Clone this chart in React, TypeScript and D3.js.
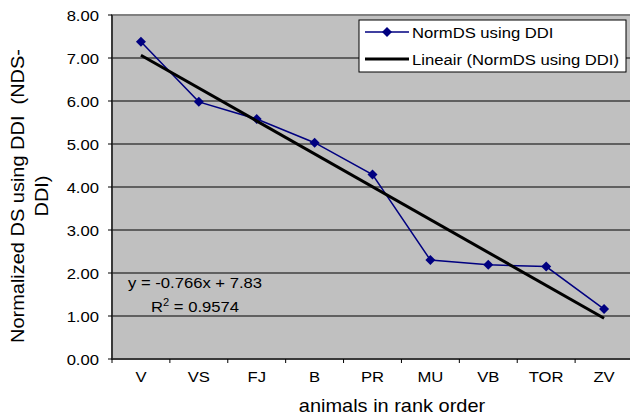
import React from "react";
import * as d3 from "d3";

const categories = ["V", "VS", "FJ", "B", "PR", "MU", "VB", "TOR", "ZV"];
const normDS = [7.38, 5.98, 5.58, 5.03, 4.29, 2.3, 2.19, 2.15, 1.16];
const yTicks = [0, 1, 2, 3, 4, 5, 6, 7, 8];
const seriesName = "NormDS using DDI";
const trendName = "Lineair (NormDS using DDI)";
const equationLabel = "y = -0.766x + 7.83";
const r2Value = "0.9574";
const xTitle = "animals in rank order";
const yTitleLines = ["Normalized DS using DDI  (NDS-", "DDI)"];

const W = 630;
const H = 418;
const plot = { left: 112, right: 633, top: 15, bottom: 359 };
const FONT = "'Liberation Sans', Arial, Helvetica, sans-serif";
const SX = 1.11;

function T({ x, y, size, anchor = "start", children, fill = "#000" }: any) {
  return (
    <text
      transform={`translate(${x},${y}) scale(${SX},1)`}
      fontSize={size}
      textAnchor={anchor}
      fill={fill}
      fontFamily={FONT}
      style={{ whiteSpace: "pre" }}
    >
      {children}
    </text>
  );
}

export default function App() {
  const x = d3
    .scaleBand<string>()
    .domain(categories)
    .range([plot.left, plot.right])
    .paddingInner(0)
    .paddingOuter(0);
  const y = d3.scaleLinear().domain([0, 8]).range([plot.bottom, plot.top]);
  const cx = (c: string) => (x(c) as number) + x.bandwidth() / 2;

  // linear regression (x = 1..n)
  const n = normDS.length;
  const xs = normDS.map((_, i) => i + 1);
  const mx = d3.mean(xs) as number;
  const my = d3.mean(normDS) as number;
  const slope =
    (d3.sum(xs.map((xi, i) => (xi - mx) * (normDS[i] - my))) as number) /
    (d3.sum(xs.map((xi) => (xi - mx) ** 2)) as number);
  const intercept = my - slope * mx;
  const trendPts: [number, number][] = [
    [cx(categories[0]), y(intercept + slope * 1)],
    [cx(categories[n - 1]), y(intercept + slope * n)],
  ];

  const line = d3
    .line<number>()
    .x((_, i) => cx(categories[i]))
    .y((d) => y(d));
  const diamond = d3.symbol(d3.symbolSquare, 50)() as string;

  const legend = { x: 359, y: 20, w: 267, h: 52 };
  const row1 = 32;
  const row2 = 59;

  return (
    <svg
      width={W}
      height={H}
      style={{ position: "absolute", left: 0, top: 0, background: "#fff" }}
    >
      <rect x={0} y={0} width={W} height={H} fill="#fff" />
      {/* plot area */}
      <rect
        x={plot.left}
        y={plot.top}
        width={plot.right - plot.left}
        height={plot.bottom - plot.top}
        fill="#c0c0c0"
        stroke="#808080"
        strokeWidth={2}
      />
      {/* gridlines */}
      {yTicks
        .filter((t) => t > 0 && t < 8)
        .map((t) => (
          <line
            key={t}
            x1={plot.left}
            x2={plot.right}
            y1={y(t)}
            y2={y(t)}
            stroke="#000"
            strokeWidth={1}
          />
        ))}
      {/* axes */}
      <line x1={plot.left} x2={plot.left} y1={plot.top} y2={plot.bottom} stroke="#222" strokeWidth={1.5} />
      <line x1={plot.left} x2={plot.right} y1={plot.bottom} y2={plot.bottom} stroke="#222" strokeWidth={1.5} />
      {yTicks.map((t) => (
        <g key={"yt" + t}>
          <line x1={plot.left - 4} x2={plot.left} y1={y(t)} y2={y(t)} stroke="#000" />
          <T x={99} y={y(t) + 5.5} size={15} anchor="end">
            {t.toFixed(2)}
          </T>
        </g>
      ))}
      {categories.map((c, i) => (
        <g key={"xt" + c}>
          <line
            x1={x(c) as number}
            x2={x(c) as number}
            y1={plot.bottom}
            y2={plot.bottom + 4}
            stroke="#000"
          />
          <T x={cx(c)} y={382} size={15} anchor="middle">
            {c}
          </T>
        </g>
      ))}
      {/* series */}
      <path d={line(normDS) as string} fill="none" stroke="#000080" strokeWidth={1.5} />
      {normDS.map((v, i) => (
        <path
          key={"m" + i}
          d={diamond}
          transform={`translate(${cx(categories[i])},${y(v)}) rotate(45)`}
          fill="#000080"
        />
      ))}
      {/* trendline */}
      <line
        x1={trendPts[0][0]}
        y1={trendPts[0][1]}
        x2={trendPts[1][0]}
        y2={trendPts[1][1]}
        stroke="#000"
        strokeWidth={3}
      />
      {/* equation */}
      <T x={195} y={288} size={15} anchor="middle">
        {equationLabel}
      </T>
      <text
        transform={`translate(195,312) scale(${SX},1)`}
        fontSize={15}
        textAnchor="middle"
        fontFamily={FONT}
      >
        R<tspan fontSize={10} dy={-6}>2</tspan>
        <tspan dy={6}>{" = " + r2Value}</tspan>
      </text>
      {/* legend */}
      <rect x={legend.x} y={legend.y} width={legend.w} height={legend.h} fill="#fff" stroke="#000" strokeWidth={1} />
      <line x1={365} x2={409} y1={row1} y2={row1} stroke="#000080" strokeWidth={1.5} />
      <path d={diamond} transform={`translate(387,${row1}) rotate(45)`} fill="#000080" />
      <T x={412} y={row1 + 5.5} size={15}>
        {seriesName}
      </T>
      <line x1={365} x2={409} y1={row2} y2={row2} stroke="#000" strokeWidth={3} />
      <T x={412} y={row2 + 5.5} size={15}>
        {trendName}
      </T>
      {/* axis titles */}
      <T x={392} y={412} size={18} anchor="middle">
        {xTitle}
      </T>
      <g transform="translate(0,196) rotate(-90)">
        {yTitleLines.map((l, i) => (
          <T key={i} x={0} y={24 + i * 24} size={18} anchor="middle">
            {l}
          </T>
        ))}
      </g>
    </svg>
  );
}
